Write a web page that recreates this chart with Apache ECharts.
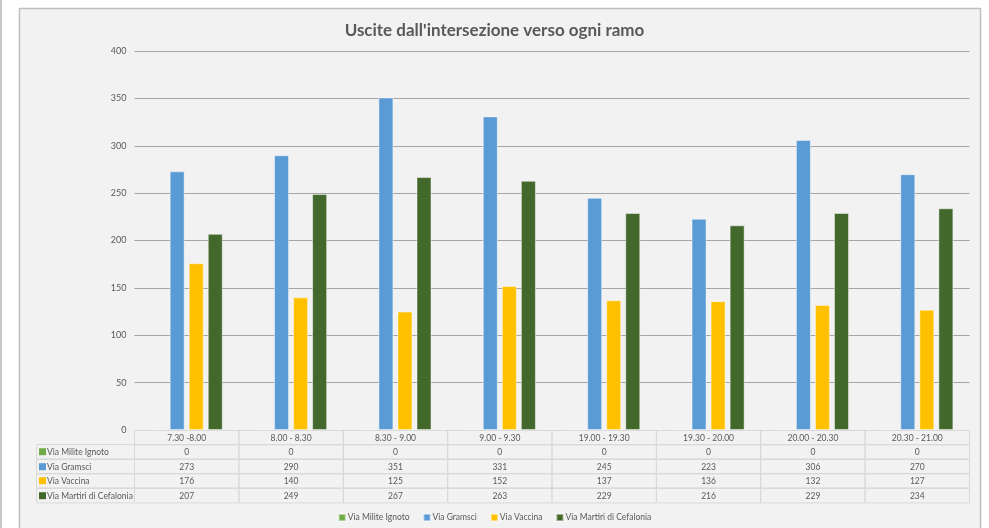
<!DOCTYPE html>
<html>
<head>
<meta charset="utf-8">
<script src="https://cdn.jsdelivr.net/npm/echarts@6/dist/echarts.min.js"></script>
<style>
html,body{margin:0;padding:0;background:#fff;}
#c{width:989px;height:528px;}
</style>
</head>
<body>
<div id="c"></div>
<script>
const categories = ['7.30 -8.00','8.00 - 8.30','8.30 - 9.00','9.00 - 9.30','19.00 - 19.30','19.30 - 20.00','20.00 - 20.30','20.30 - 21.00'];
const seriesNames = ['Via Milite Ignoto','Via Gramsci','Via Vaccina','Via Martiri di Cefalonia'];
const milite = [0,0,0,0,0,0,0,0];
const gramsci = [273,290,351,331,245,223,306,270];
const vaccina = [176,140,125,152,137,136,132,127];
const martiri = [207,249,267,263,229,216,229,234];
const yTicks = [0,50,100,150,200,250,300,350,400];

const colors = ['#70ad47','#5b9bd5','#ffc000','#43682b'];
const allValues = [milite, gramsci, vaccina, martiri];
const FONT = 'Lato, "Open Sans", sans-serif';
const TXT = '#595959';
const ROWH = 14.4;
const LABELW = 98;
const TFS = 8.5;

// table cells
const cells = [];
categories.forEach((cat, i) => cells.push({c: i, r: 0, text: cat}));
allValues.forEach((arr, s) => {
  cells.push({c: -1, r: s + 1, text: seriesNames[s], color: colors[s]});
  arr.forEach((v, i) => cells.push({c: i, r: s + 1, text: String(v)}));
});

const chart = echarts.init(document.getElementById('c'), null, {renderer: 'canvas'});

const barSeries = allValues.map((arr, s) => ({
  name: seriesNames[s],
  type: 'bar',
  data: arr,
  barWidth: 15,
  barGap: '27%',
  itemStyle: {color: colors[s], borderColor: 'rgba(255,255,255,0.45)', borderWidth: 1},
  z: 3
}));

const tableSeries = {
  type: 'custom',
  name: 'table',
  data: cells.map(d => [Math.max(d.c, 0), d.r]),
  encode: {x: 0, y: 1},
  clip: false,
  silent: true,
  z: 4,
  renderItem: function (params, api) {
    const d = cells[params.dataIndex];
    const w = api.size([1, 0])[0];
    const p = api.coord([Math.max(d.c, 0), 0]);
    const y = Math.round(p[1] + d.r * ROWH) + 0.5;
    const h = ROWH;
    let x, cw;
    if (d.c < 0) { cw = LABELW; x = p[0] - w / 2 - cw; } else { cw = w; x = p[0] - w / 2; }
    const children = [{
      type: 'rect',
      shape: {x: x, y: y, width: cw, height: h},
      style: {fill: null, stroke: '#d9d9d9', lineWidth: 1}
    }];
    if (d.c < 0) {
      children.push({
        type: 'rect',
        shape: {x: x + 2.5, y: y + h / 2 - 3.5, width: 7, height: 7},
        style: {fill: d.color}
      });
      children.push({
        type: 'text',
        style: {x: x + 10.5, y: y + h / 2 + 0.5, text: d.text, fill: TXT, font: TFS + 'px ' + FONT, textAlign: 'left', textVerticalAlign: 'middle'}
      });
    } else {
      children.push({
        type: 'text',
        style: {x: x + cw / 2, y: y + h / 2 + 0.5, text: d.text, fill: TXT, font: TFS + 'px ' + FONT, textAlign: 'center', textVerticalAlign: 'middle'}
      });
    }
    return {type: 'group', children: children};
  }
};

const option = {
  backgroundColor: '#ffffff',
  animation: false,
  textStyle: {fontFamily: FONT},
  graphic: [
    {type: 'rect', z: -10, shape: {x: 19.5, y: 8.5, width: 961, height: 530}, style: {fill: '#f2f2f2', stroke: '#bfbfbf', lineWidth: 1.5}},
    {type: 'rect', z: -10, shape: {x: 0, y: 0, width: 2, height: 528}, style: {fill: '#c8c8c8'}}
  ],
  title: {
    text: "Uscite dall'intersezione verso ogni ramo",
    left: 'center',
    top: 17,
    textStyle: {fontFamily: FONT, fontSize: 17, fontWeight: 'bold', color: TXT}
  },
  legend: {
    data: seriesNames,
    top: 508,
    left: 'center',
    icon: 'rect',
    itemWidth: 7,
    itemHeight: 7,
    itemGap: 13,
    textStyle: {fontFamily: FONT, fontSize: TFS, color: TXT, padding: [0, 0, 0, -3]}
  },
  grid: {left: 134.5, right: 19.5, top: 51, bottom: 98, containLabel: false},
  xAxis: {
    type: 'category',
    data: categories,
    axisLine: {show: false},
    axisTick: {show: false},
    axisLabel: {show: false},
    splitLine: {show: false}
  },
  yAxis: {
    type: 'value',
    min: yTicks[0],
    max: yTicks[yTicks.length - 1],
    interval: yTicks[1] - yTicks[0],
    axisLine: {show: false},
    axisTick: {show: false},
    axisLabel: {color: TXT, fontSize: 9, fontFamily: FONT, margin: 8},
    splitLine: {lineStyle: {color: ['#d9d9d9','#a6a6a6','#a6a6a6','#a6a6a6','#a6a6a6','#a6a6a6','#a6a6a6','#a6a6a6','#a6a6a6'], width: 1}}
  },
  series: barSeries.concat([tableSeries])
};
chart.setOption(option);
</script>
</body>
</html>
